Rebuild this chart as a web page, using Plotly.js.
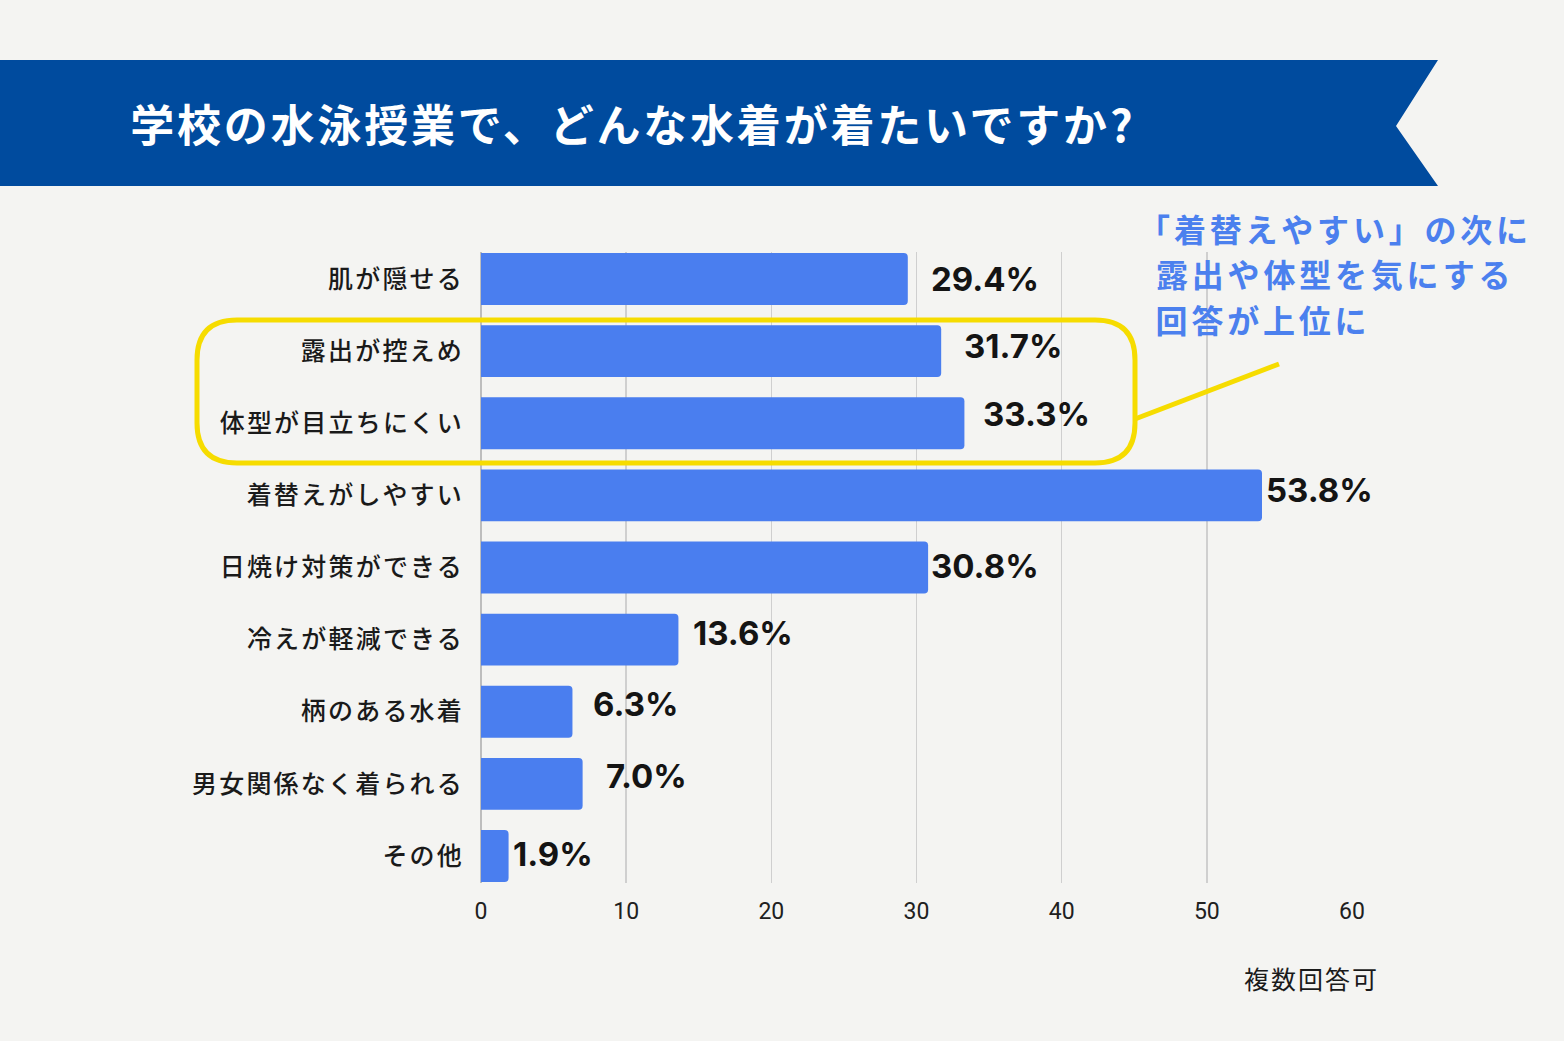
<!DOCTYPE html>
<html>
<head>
<meta charset="utf-8">
<script src="https://cdn.plot.ly/plotly-3.0.1.min.js"></script>
<style>
  html, body { margin: 0; padding: 0; background: #f4f4f2; }
  #chart { width: 1564px; height: 1041px; }
  /* slightly airier Japanese lettering */
  #chart g.ytick text { letter-spacing: 2.2px; }
  #chart g.annotation[data-index="9"] text,
  #chart g.annotation[data-index="10"] text,
  #chart g.annotation[data-index="11"] text { letter-spacing: 3.8px; }
  #chart g.annotation[data-index="12"] text { letter-spacing: 2.8px; }
  #chart g.annotation[data-index="13"] text { letter-spacing: 2px; }
</style>
</head>
<body>
<div id="chart"></div>
<script>
// Survey answers (multiple choice allowed), share of respondents in %
const categories = [
  '肌が隠せる',
  '露出が控えめ',
  '体型が目立ちにくい',
  '着替えがしやすい',
  '日焼け対策ができる',
  '冷えが軽減できる',
  '柄のある水着',
  '男女関係なく着られる',
  'その他'
];
const shares = [29.4, 31.7, 33.3, 53.8, 30.8, 13.6, 6.3, 7.0, 1.9];
const xTicks = [0, 10, 20, 30, 40, 50, 60];

const titleText = '学校の水泳授業で、どんな水着が着たいですか?';
const noteLines = ['「着替えやすい」の次に', '露出や体型を気にする', '回答が上位に'];
const footText = '複数回答可';

// page geometry
const W = 1564, H = 1041;
const M = { l: 481, r: 212, t: 252, b: 158 };
const plotW = W - M.l - M.r;
const plotH = H - M.t - M.b;
const px = x => (x - M.l) / plotW;
const py = y => (H - M.b - y) / plotH;

// value-label nudges (pixels) so the labels sit as in the layout
const labelDx = [21, 21, 17, 2, 1, 13, 19, 21, 2];
const labelDy = [0, 5, 9, 5, 2, 7, 8, 8, 2];

const BLUE = '#4a7eef';
const NAVY = '#004b9e';
const YELLOW = '#f6dc00';
const NOTE = '#4b80ee';

const bars = {
  type: 'bar',
  orientation: 'h',
  x: shares,
  y: categories,
  width: 0.72,
  marker: { color: BLUE, cornerradius: 4, line: { width: 0 } },
  hoverinfo: 'none'
};

const labelAnnotations = shares.map((v, i) => ({
  x: v, y: categories[i], xref: 'x', yref: 'y',
  text: v.toFixed(1) + '%',
  showarrow: false,
  xanchor: 'left', yanchor: 'middle',
  xshift: labelDx[i], yshift: labelDy[i],
  font: { family: 'Inter, Roboto, sans-serif', size: 33, weight: 700, color: '#141414' }
}));

const noteY = [228, 273, 319];
const noteX = [1157, 1173, 1165];
const noteAnnotations = noteLines.map((t, i) => ({
  x: px(noteX[i]), y: py(noteY[i]), xref: 'paper', yref: 'paper',
  text: t, showarrow: false, xanchor: 'left', yanchor: 'middle',
  font: { family: 'Noto Sans CJK JP, sans-serif', size: 32, weight: 700, color: NOTE }
}));

const otherAnnotations = [
  {
    x: px(159), y: py(123), xref: 'paper', yref: 'paper',
    text: titleText, showarrow: false, xanchor: 'left', yanchor: 'middle',
    font: { family: 'Noto Sans CJK JP, sans-serif', size: 44, weight: 700, color: '#ffffff' }
  },
  {
    x: px(1376), y: py(978), xref: 'paper', yref: 'paper',
    text: footText, showarrow: false, xanchor: 'right', yanchor: 'middle',
    font: { family: 'Noto Sans CJK JP, sans-serif', size: 25, color: '#1a1a1a' }
  }
];

// banner with a notched right end
const bannerPath = 'M ' + px(0) + ',' + py(60) +
  ' L ' + px(1438) + ',' + py(60) +
  ' L ' + px(1396) + ',' + py(126) +
  ' L ' + px(1438) + ',' + py(186) +
  ' L ' + px(0) + ',' + py(186) + ' Z';

// rounded highlight frame
function roundRect(x0, y0, x1, y1, r) {
  const p = (x, y) => px(x) + ',' + py(y);
  return 'M ' + p(x0 + r, y0) +
    ' L ' + p(x1 - r, y0) + ' Q ' + p(x1, y0) + ' ' + p(x1, y0 + r) +
    ' L ' + p(x1, y1 - r) + ' Q ' + p(x1, y1) + ' ' + p(x1 - r, y1) +
    ' L ' + p(x0 + r, y1) + ' Q ' + p(x0, y1) + ' ' + p(x0, y1 - r) +
    ' L ' + p(x0, y0 + r) + ' Q ' + p(x0, y0) + ' ' + p(x0 + r, y0) + ' Z';
}

const shapes = [
  { type: 'path', xref: 'paper', yref: 'paper', path: bannerPath,
    fillcolor: NAVY, line: { width: 0 }, layer: 'below' },
  { type: 'path', xref: 'paper', yref: 'paper',
    path: roundRect(197, 320, 1135, 463, 40),
    fillcolor: 'rgba(0,0,0,0)', line: { color: YELLOW, width: 5 }, layer: 'above' },
  { type: 'line', xref: 'paper', yref: 'paper',
    x0: px(1135), y0: py(419), x1: px(1279), y1: py(364),
    line: { color: YELLOW, width: 5 }, layer: 'above' }
];

const layout = {
  width: W, height: H,
  margin: M,
  paper_bgcolor: '#f4f4f2',
  plot_bgcolor: '#f4f4f2',
  showlegend: false,
  xaxis: {
    range: [0, 60],
    tickvals: xTicks,
    ticktext: xTicks.map(String),
    showgrid: true, gridcolor: '#cfcfcf', gridwidth: 1.5,
    zeroline: true, zerolinecolor: '#bdbdbd', zerolinewidth: 1.5,
    showline: false, ticks: '',
    ticklabelstandoff: 12,
    tickfont: { family: 'Roboto, sans-serif', size: 23, color: '#202020' },
    fixedrange: true
  },
  yaxis: {
    type: 'category',
    categoryorder: 'array', categoryarray: categories,
    range: [8.375, -0.375],
    autorange: false,
    showgrid: false, zeroline: false, showline: false, ticks: '',
    ticklabelstandoff: 16,
    tickfont: { family: 'Noto Sans CJK JP, sans-serif', size: 25, weight: 500, color: '#1a1a1a' },
    fixedrange: true
  },
  shapes: shapes,
  annotations: labelAnnotations.concat(noteAnnotations, otherAnnotations)
};

Plotly.newPlot('chart', [bars], layout, { displayModeBar: false, staticPlot: true });
</script>
</body>
</html>
